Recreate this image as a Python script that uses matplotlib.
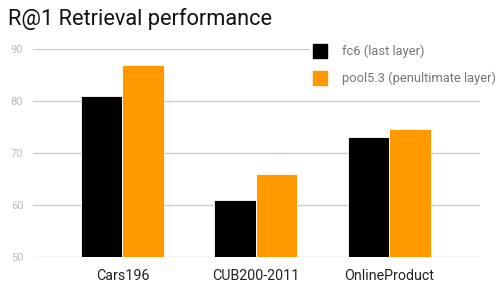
import numpy as np
import matplotlib
matplotlib.use("Agg")
import matplotlib.pyplot as plt
from matplotlib.lines import Line2D

plt.rcParams['font.family'] = ['Roboto', 'DejaVu Sans']

datasets = ["Cars196", "CUB200-2011", "OnlineProduct"]
fc6 = [81, 61, 73]
pool53 = [87, 66, 74.7]
series_names = ["fc6 (last layer)", "pool5.3 (penultimate layer)"]
yticks = [50, 60, 70, 80, 90]

black = "#000000"
orange = "#ff9900"

fig = plt.figure(figsize=(5, 2.92), dpi=100)
ax = fig.add_axes([0.066, 0.12, 0.894, 0.712])

x = np.arange(len(datasets))
w = 0.31
ax.bar(x - w / 2, fc6, width=w, color=black, edgecolor="white", linewidth=0.6, zorder=3)
ax.bar(x + w / 2, pool53, width=w, color=orange, edgecolor="white", linewidth=0.6, zorder=3)

ax.set_ylim(50, 90)
ax.set_xlim(-0.67, 2.68)
ax.set_yticks(yticks)
ax.set_yticklabels([str(v) for v in yticks], color="#bdbdbd", fontsize=8)
ax.set_xticks(x)
ax.set_xticklabels(datasets, color="#222222", fontsize=10.3)
ax.tick_params(axis="both", length=0)
ax.tick_params(axis="y", pad=7)
ax.tick_params(axis="x", pad=9)
for s in ax.spines.values():
    s.set_visible(False)
ax.grid(axis="y", color="#cccccc", linewidth=1, zorder=0)
ax.set_axisbelow(True)

fig.text(0.016, 0.935, "R@1 Retrieval performance", fontsize=15.7, color="#111111",
         va="center", ha="left")

handles = [Line2D([0], [0], marker="s", linestyle="none", markersize=10.5,
                  markerfacecolor=c, markeredgecolor=c) for c in (black, orange)]
leg = ax.legend(handles, series_names, loc="upper left", bbox_to_anchor=(0.605, 1.07),
                bbox_transform=ax.transAxes,
                frameon=True, fancybox=False, edgecolor="white", facecolor="white",
                framealpha=1, fontsize=9.3, labelcolor="#757575", handlelength=1.0,
                handletextpad=1.2, labelspacing=1.05, borderpad=0.3)
leg.set_zorder(5)

fig.savefig("out.png", dpi=100)
